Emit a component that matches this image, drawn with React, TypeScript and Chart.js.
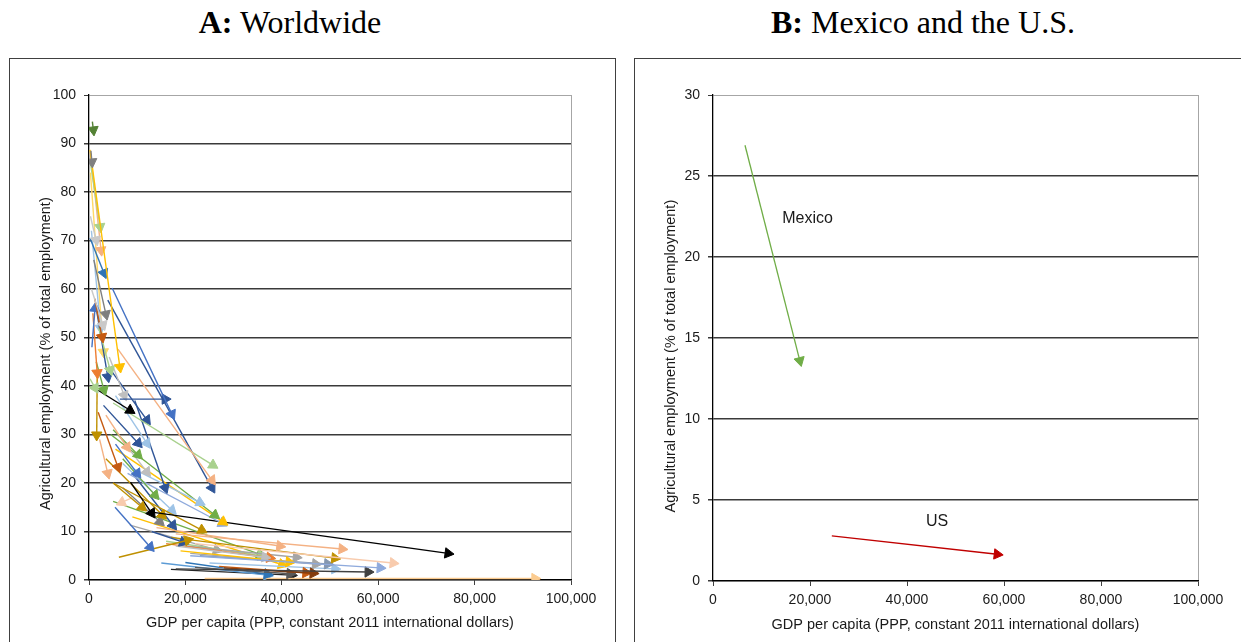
import React, { useEffect, useRef } from "react";
import { Chart, registerables } from "chart.js";

Chart.register(...registerables);

// ---------- Panel A: Worldwide (one arrow per country: start -> end) ----------
const worldArrowColors = [
  "#548235", "#7F7F7F", "#FFC000", "#A9D18E", "#C9C9C9", "#F4B183", "#2E75B6", "#4472C4",
  "#2F5597", "#7F7F7F", "#C9C9C9", "#C55A11", "#4472C4", "#ED7D31", "#A9D18E", "#2F5597",
  "#A9D18E", "#70AD47", "#BFBFBF", "#000000", "#F4B183", "#A9D18E", "#2F5597", "#2F5597",
  "#2F5597", "#9DC3E6", "#F4B183", "#70AD47", "#C55A11", "#F4B183", "#BFBFBF", "#4472C4",
  "#2F5597", "#9DC3E6", "#70AD47", "#70AD47", "#BF9000", "#FFC000", "#8FAADC", "#000000",
  "#000000", "#BF9000", "#BF9000", "#F8CBAD", "#2F5597", "#9DC3E6", "#7F7F7F", "#4472C4",
  "#BF9000", "#2F5597", "#F4B183", "#F4B183", "#F8CBAD", "#BF9000", "#8FAADC", "#404040",
  "#843C0C", "#C55A11", "#595959", "#2E75B6", "#BFBFBF", "#ED7D31", "#FFC000", "#A5A5A5",
  "#A5A5A5", "#8497B0", "#9DC3E6", "#A9D18E", "#FBCB8F", "#70AD47", "#BF9000", "#5B9BD5",
  "#262626", "#9DC3E6", "#FFD966", "#A5A5A5", "#FFC000",
];
const worldGdpStart = [
  700, 400, 200, 200, 300, 300, 200, 4800,
  6400, 1000, 500, 1200, 600, 800, 2000, 1500,
  200, 1500, 4200, 800, 6000, 5000, 3900, 4000,
  3000, 5500, 3500, 5000, 1900, 2200, 6000, 5500,
  9500, 9000, 7000, 4500, 5000, 5500, 8000, 8600,
  13000, 3500, 5000, 9000, 9000, 7000, 7000, 5400,
  6200, 13000, 14000, 18000, 22000, 17000, 21000, 18000,
  28000, 27000, 22000, 20000, 18000, 16000, 19000, 20000,
  21000, 23000, 25000, 16000, 24000, 5000, 1700, 15000,
  17000, 500, 300, 8500, 9000,
];
const worldAgriStart = [
  94.5, 88.5, 88.7, 86.6, 75, 88, 70.5, 60.2,
  37.3, 66, 60, 58, 48, 55, 52, 56,
  41.5, 45, 46, 39.8, 47.6, 36.5, 57.7, 44,
  36, 38, 34, 31, 34.6, 29, 30, 28,
  37, 23, 25, 30, 20, 27, 22, 20.2,
  14, 25, 20, 17, 22, 24, 19, 15,
  4.7, 10, 10.8, 9.5, 7.5, 8.8, 5, 2.3,
  2.5, 2.8, 2.6, 3.6, 7, 7.5, 6, 7,
  5.5, 5, 3.5, 8, 0.3, 16.2, 42, 3.5,
  2.2, 72, 84, 11.3, 13,
];
const worldGdpEnd = [
  900, 600, 6400, 2300, 1450, 2500, 3100, 17200,
  15800, 3500, 2900, 2700, 1250, 1700, 4400, 3900,
  1250, 3100, 7300, 8500, 25500, 25700, 25500, 12000,
  10200, 12000, 7900, 10200, 6000, 3900, 12000, 10000,
  15800, 23000, 13700, 26100, 11000, 27800, 27600, 13000,
  74500, 15200, 23400, 6800, 17400, 17200, 14700, 12700,
  20500, 19500, 39600, 52500, 63100, 51000, 60400, 57900,
  46500, 45000, 41700, 37000, 36500, 37500, 41500, 43000,
  47000, 49500, 51000, 35700, 92500, 35500, 1600, 37000,
  42000, 2400, 3000, 26500, 40000,
];
const worldAgriEnd = [
  92.8, 86.2, 43.9, 72.8, 70.1, 68, 63.3, 34.2,
  37.3, 54.8, 52.6, 50.1, 56, 42.7, 43.3, 41.9,
  39.6, 39.2, 38.1, 35, 20.6, 23.7, 19, 33,
  28.2, 28.2, 27.4, 25.8, 23.3, 22, 22.3, 22,
  19, 16, 17.5, 13.4, 15, 12, 11.7, 13.8,
  5.5, 13.4, 10.3, 16, 11.3, 14.4, 12, 6.8,
  8.2, 7.8, 7, 6.4, 3.5, 4.5, 2.5, 1.65,
  1.4, 1.5, 1.3, 1.2, 4.7, 4.6, 3.7, 4.7,
  3.3, 3.3, 2.3, 5, 0.3, 5.3, 29.9, 1.0,
  1.0, 52, 47, 6.2, 3.2,
];
const worldYMax = 100;
const worldYStep = 10;

// ---------- Panel B: Mexico and the U.S. ----------
const mexicoGdp = [6600, 17900];
const mexicoAgri = [26.9, 13.6];
const usGdp = [24500, 58600];
const usAgri = [2.78, 1.65];
const countryLabels = ["Mexico", "US"];
const countryLabelGdp = [19500, 46200];
const countryLabelAgri = [22.4, 3.67];
const mxusYMax = 30;
const mxusYStep = 5;

const gdpMax = 100000;
const gdpStep = 20000;

const xTitle = "GDP per capita (PPP, constant 2011 international dollars)";
const yTitle = "Agricultural employment (% of total employment)";

const FONT = "'Liberation Sans', Arial, sans-serif";
const TEXT = "#1a1a1a";

const arrowRotation = (ctx: any) => {
  const chart = ctx.chart;
  const d = ctx.dataset.data;
  const xs = chart.scales.x;
  const ys = chart.scales.y;
  if (!xs || !ys || !d || d.length < 2) return 0;
  const dx = xs.getPixelForValue(d[1].x) - xs.getPixelForValue(d[0].x);
  const dy = ys.getPixelForValue(d[1].y) - ys.getPixelForValue(d[0].y);
  return (Math.atan2(dx, -dy) * 180) / Math.PI;
};

function arrowDataset(color: string, x0: number, y0: number, x1: number, y1: number, r: number, w: number) {
  return {
    data: [
      { x: x0, y: y0 },
      { x: x1, y: y1 },
    ],
    showLine: true,
    borderColor: color,
    backgroundColor: color,
    borderWidth: w,
    pointRadius: [0, r],
    pointHoverRadius: [0, r],
    pointStyle: "triangle",
    pointBorderWidth: 1,
    pointBorderColor: color,
    pointBackgroundColor: color,
    pointRotation: arrowRotation,
    tension: 0,
    fill: false,
  };
}

function makeOptions(yMax: number, yStep: number, yWidth: number, xHeight: number, rightPad: number, yTitleText: string, xTitleBottom: number) {
  const tickFont = { family: FONT, size: 14 };
  const titleFont = { family: FONT, size: 14.5 };
  return {
    animation: false,
    responsive: false,
    events: [],
    layout: { padding: { left: 0, top: 36, right: rightPad, bottom: 0 } },
    plugins: { legend: { display: false }, tooltip: { enabled: false } },
    scales: {
      x: {
        type: "linear",
        min: 0,
        max: gdpMax,
        afterFit: (s: any) => {
          s.height = xHeight;
        },
        ticks: {
          stepSize: gdpStep,
          autoSkip: false,
          maxRotation: 0,
          padding: 6,
          color: TEXT,
          font: tickFont,
          callback: (v: any) => Number(v).toLocaleString("en-US"),
        },
        grid: {
          color: (c: any) => (c.tick && c.tick.value === gdpMax ? "#a6a6a6" : "rgba(0,0,0,0)"),
          tickColor: "#404040",
          tickLength: 5,
          lineWidth: 1,
        },
        border: { display: true, color: "#000000", width: 1.3 },
        title: {
          display: true,
          text: xTitle,
          color: TEXT,
          font: titleFont,
          padding: { top: 0, bottom: xTitleBottom },
        },
      },
      y: {
        type: "linear",
        min: 0,
        max: yMax,
        afterFit: (s: any) => {
          s.width = yWidth;
        },
        ticks: {
          stepSize: yStep,
          autoSkip: false,
          padding: 8,
          color: TEXT,
          font: tickFont,
        },
        grid: {
          color: (c: any) => (c.tick && c.tick.value === yMax ? "#a6a6a6" : "#3a3a3a"),
          lineWidth: (c: any) => (c.tick && c.tick.value === yMax ? 1 : 1.5),
          tickColor: "#3a3a3a",
          tickLength: 5,
        },
        border: { display: true, color: "#000000", width: 1.3 },
        title: {
          display: true,
          text: yTitleText,
          color: TEXT,
          font: titleFont,
          padding: { top: 27, bottom: 0 },
        },
      },
    },
  } as any;
}

const countryLabelPlugin = {
  id: "countryLabels",
  afterDatasetsDraw(chart: any) {
    const { ctx, scales } = chart;
    ctx.save();
    ctx.font = `16px ${FONT}`;
    ctx.fillStyle = TEXT;
    ctx.textAlign = "center";
    ctx.textBaseline = "middle";
    countryLabels.forEach((t, i) => {
      ctx.fillText(t, scales.x.getPixelForValue(countryLabelGdp[i]), scales.y.getPixelForValue(countryLabelAgri[i]));
    });
    ctx.restore();
  },
};

export default function App() {
  const refA = useRef<HTMLCanvasElement>(null);
  const refB = useRef<HTMLCanvasElement>(null);

  useEffect(() => {
    const worldSets = worldArrowColors.map((c, i) =>
      arrowDataset(c, worldGdpStart[i], worldAgriStart[i], worldGdpEnd[i], worldAgriEnd[i], 6, 1.4)
    );
    const chartA = new Chart(refA.current as HTMLCanvasElement, {
      type: "scatter",
      data: { datasets: worldSets as any },
      options: makeOptions(worldYMax, worldYStep, 79, 62, 43, yTitle + "        ", 10),
    });
    const chartB = new Chart(refB.current as HTMLCanvasElement, {
      type: "scatter",
      data: {
        datasets: [
          arrowDataset("#70AD47", mexicoGdp[0], mexicoAgri[0], mexicoGdp[1], mexicoAgri[1], 6, 1.3),
          arrowDataset("#C00000", usGdp[0], usAgri[0], usGdp[1], usAgri[1], 6, 1.3),
        ] as any,
      },
      options: makeOptions(mxusYMax, mxusYStep, 78, 61, 43, yTitle + "         ", 8),
      plugins: [countryLabelPlugin],
    });
    return () => {
      chartA.destroy();
      chartB.destroy();
    };
  }, []);

  const titleStyle: React.CSSProperties = {
    position: "absolute",
    top: 4,
    width: 500,
    textAlign: "center",
    fontFamily: "'Liberation Serif', 'Times New Roman', serif",
    fontSize: 32,
    lineHeight: "36px",
    color: "#000",
    whiteSpace: "nowrap",
  };
  const boxStyle: React.CSSProperties = {
    position: "absolute",
    top: 58,
    height: 620,
    boxSizing: "border-box",
    border: "1px solid #404040",
    background: "#fff",
  };

  return (
    <div style={{ position: "absolute", left: 0, top: 0, width: 1241, height: 642, overflow: "hidden", background: "#fff" }}>
      <div style={{ ...titleStyle, left: 290 - 250 }}>
        <b>A:</b> Worldwide
      </div>
      <div style={{ ...titleStyle, left: 923 - 250 }}>
        <b>B:</b> Mexico and the U.S.
      </div>
      <div style={{ ...boxStyle, left: 9, width: 607 }} />
      <div style={{ ...boxStyle, left: 634, width: 640 }} />
      <canvas
        ref={refA}
        width={604}
        height={583}
        style={{ position: "absolute", left: 10, top: 59, width: 604, height: 583, display: "block" }}
      />
      <canvas
        ref={refB}
        width={606}
        height={583}
        style={{ position: "absolute", left: 635, top: 59, width: 606, height: 583, display: "block" }}
      />
    </div>
  );
}
